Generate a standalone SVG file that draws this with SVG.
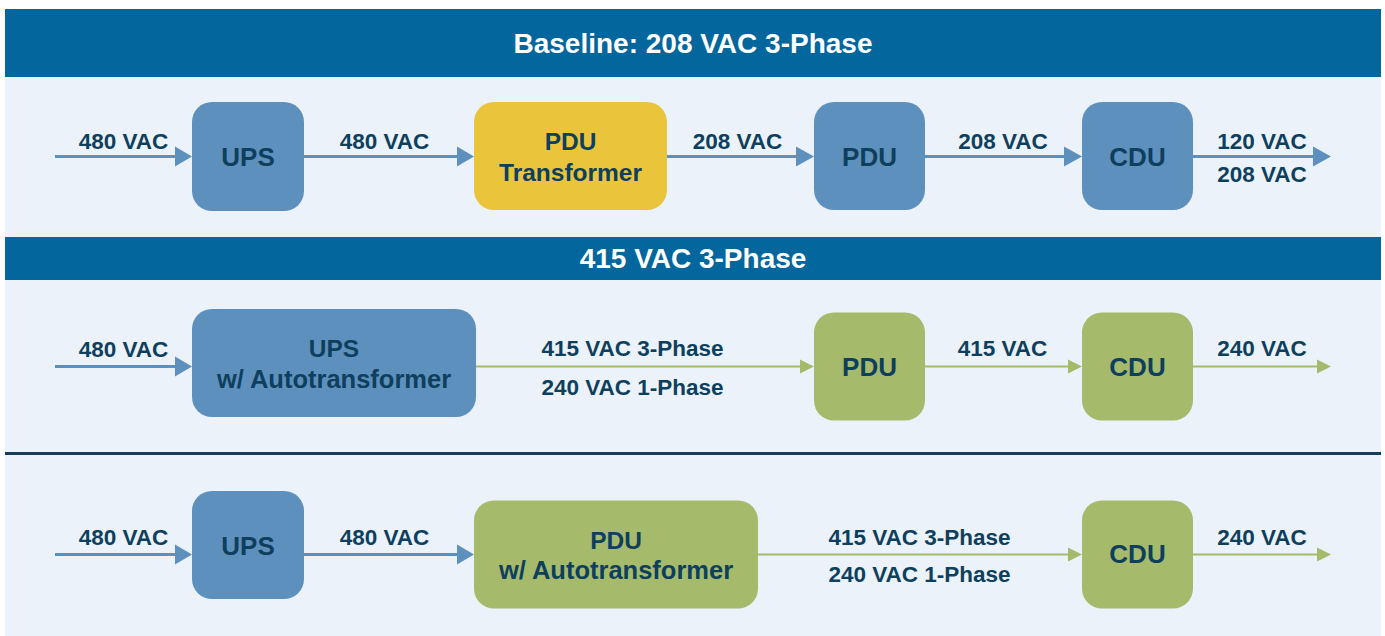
<svg xmlns="http://www.w3.org/2000/svg" width="1385" height="636" viewBox="0 0 1385 636">
<defs>
<style>
text{font-family:"Liberation Sans",Arial,sans-serif;font-weight:bold;text-anchor:middle;fill:#0E3F5C}
.hd{fill:#FFFFFF;font-size:28px}
.lb{font-size:22.5px}
.n1{font-size:26px}
.n2{font-size:24.5px}
.blue{fill:#5E90BE}
.yel{fill:#EAC53C}
.grn{fill:#A5BA6B}
.lnb{stroke:#5E90BE;stroke-width:3;fill:none}
.lng{stroke:#A5BA6B;stroke-width:2.2;fill:none}
.hb{fill:#5E90BE}
.hg{fill:#A5BA6B}
</style>
</defs>
<rect x="0" y="0" width="1385" height="636" fill="#FFFFFF"/>
<g id="background">
<rect x="5" y="9" width="1376" height="627" fill="#EBF2FA"/>
<rect x="5" y="9" width="1376" height="68" fill="#03669D"/>
<rect x="5" y="237" width="1376" height="43" fill="#03669D"/>
<rect x="5" y="452" width="1376" height="3" fill="#163E59"/>
<text class="hd" x="693" y="53">Baseline: 208 VAC 3-Phase</text>
<text class="hd" x="693" y="268">415 VAC 3-Phase</text>
</g>
<g id="connectors">
<line class="lnb" x1="55" y1="156.5" x2="177" y2="156.5"/>
<polygon class="hb" points="175,146.5 192,156.5 175,166.5"/>
<line class="lnb" x1="304" y1="156.5" x2="459" y2="156.5"/>
<polygon class="hb" points="457,146.5 474,156.5 457,166.5"/>
<line class="lnb" x1="667" y1="156.5" x2="798" y2="156.5"/>
<polygon class="hb" points="796,146.5 814,156.5 796,166.5"/>
<line class="lnb" x1="925" y1="156.5" x2="1066" y2="156.5"/>
<polygon class="hb" points="1064,146.5 1082,156.5 1064,166.5"/>
<line class="lnb" x1="1193" y1="156.5" x2="1315" y2="156.5"/>
<polygon class="hb" points="1313,146.5 1331,156.5 1313,166.5"/>
<text class="lb" x="123.5" y="149">480 VAC</text>
<text class="lb" x="384.5" y="149">480 VAC</text>
<text class="lb" x="737.5" y="149">208 VAC</text>
<text class="lb" x="1003" y="149">208 VAC</text>
<text class="lb" x="1262" y="149">120 VAC</text>
<text class="lb" x="1262" y="182">208 VAC</text>

<line class="lnb" x1="55" y1="366.5" x2="177" y2="366.5"/>
<polygon class="hb" points="175,356.5 192,366.5 175,376.5"/>
<line class="lng" x1="476" y1="366.5" x2="802" y2="366.5"/>
<polygon class="hg" points="800,359.5 814,366.5 800,373.5"/>
<line class="lng" x1="925" y1="366.5" x2="1070" y2="366.5"/>
<polygon class="hg" points="1068,359.5 1082,366.5 1068,373.5"/>
<line class="lng" x1="1193" y1="366.5" x2="1319" y2="366.5"/>
<polygon class="hg" points="1317,359.5 1331,366.5 1317,373.5"/>
<text class="lb" x="123.5" y="357">480 VAC</text>
<text class="lb" x="632.5" y="355.5">415 VAC 3-Phase</text>
<text class="lb" x="632.5" y="394.5">240 VAC 1-Phase</text>
<text class="lb" x="1002.5" y="356">415 VAC</text>
<text class="lb" x="1262" y="356">240 VAC</text>

<line class="lnb" x1="55" y1="554.5" x2="177" y2="554.5"/>
<polygon class="hb" points="175,544.5 192,554.5 175,564.5"/>
<line class="lnb" x1="304" y1="554.5" x2="459" y2="554.5"/>
<polygon class="hb" points="457,544.5 474,554.5 457,564.5"/>
<line class="lng" x1="758" y1="554.5" x2="1070" y2="554.5"/>
<polygon class="hg" points="1068,547.5 1082,554.5 1068,561.5"/>
<line class="lng" x1="1193" y1="554.5" x2="1319" y2="554.5"/>
<polygon class="hg" points="1317,547.5 1331,554.5 1317,561.5"/>
<text class="lb" x="123.5" y="545">480 VAC</text>
<text class="lb" x="384.5" y="545">480 VAC</text>
<text class="lb" x="919.5" y="545">415 VAC 3-Phase</text>
<text class="lb" x="919.5" y="582">240 VAC 1-Phase</text>
<text class="lb" x="1262" y="545">240 VAC</text>
</g>
<g id="ups1"><rect class="blue" x="192" y="102" width="112" height="109" rx="20"/><text class="n1" x="248" y="166">UPS</text></g>
<g id="pdutransformer1"><rect class="yel" x="474" y="102" width="193" height="108" rx="20"/><text class="n2" x="570.5" y="149.5">PDU</text><text class="n2" x="570.5" y="181">Transformer</text></g>
<g id="pdu1"><rect class="blue" x="814" y="102" width="111" height="108" rx="20"/><text class="n1" x="869.5" y="166">PDU</text></g>
<g id="cdu1"><rect class="blue" x="1082" y="102" width="111" height="108" rx="20"/><text class="n1" x="1137.5" y="166">CDU</text></g>

<g id="upsauto2"><rect class="blue" x="192" y="309" width="284" height="108" rx="20"/><text class="n2" x="334" y="357">UPS</text><text class="n2" x="334" y="388" style="font-size:25.5px">w/ Autotransformer</text></g>
<g id="pdu2"><rect class="grn" x="814" y="312.5" width="111" height="108" rx="20"/><text class="n1" x="869.5" y="376">PDU</text></g>
<g id="cdu2"><rect class="grn" x="1082" y="312.5" width="111" height="108" rx="20"/><text class="n1" x="1137.5" y="376">CDU</text></g>

<g id="ups3"><rect class="blue" x="192" y="491" width="112" height="108" rx="20"/><text class="n1" x="248" y="555">UPS</text></g>
<g id="pduauto3"><rect class="grn" x="474" y="500.5" width="284" height="108" rx="20"/><text class="n2" x="616" y="548.5">PDU</text><text class="n2" x="616" y="579" style="font-size:25.5px">w/ Autotransformer</text></g>
<g id="cdu3"><rect class="grn" x="1082" y="500.5" width="111" height="108" rx="20"/><text class="n1" x="1137.5" y="563">CDU</text></g>
</svg>
